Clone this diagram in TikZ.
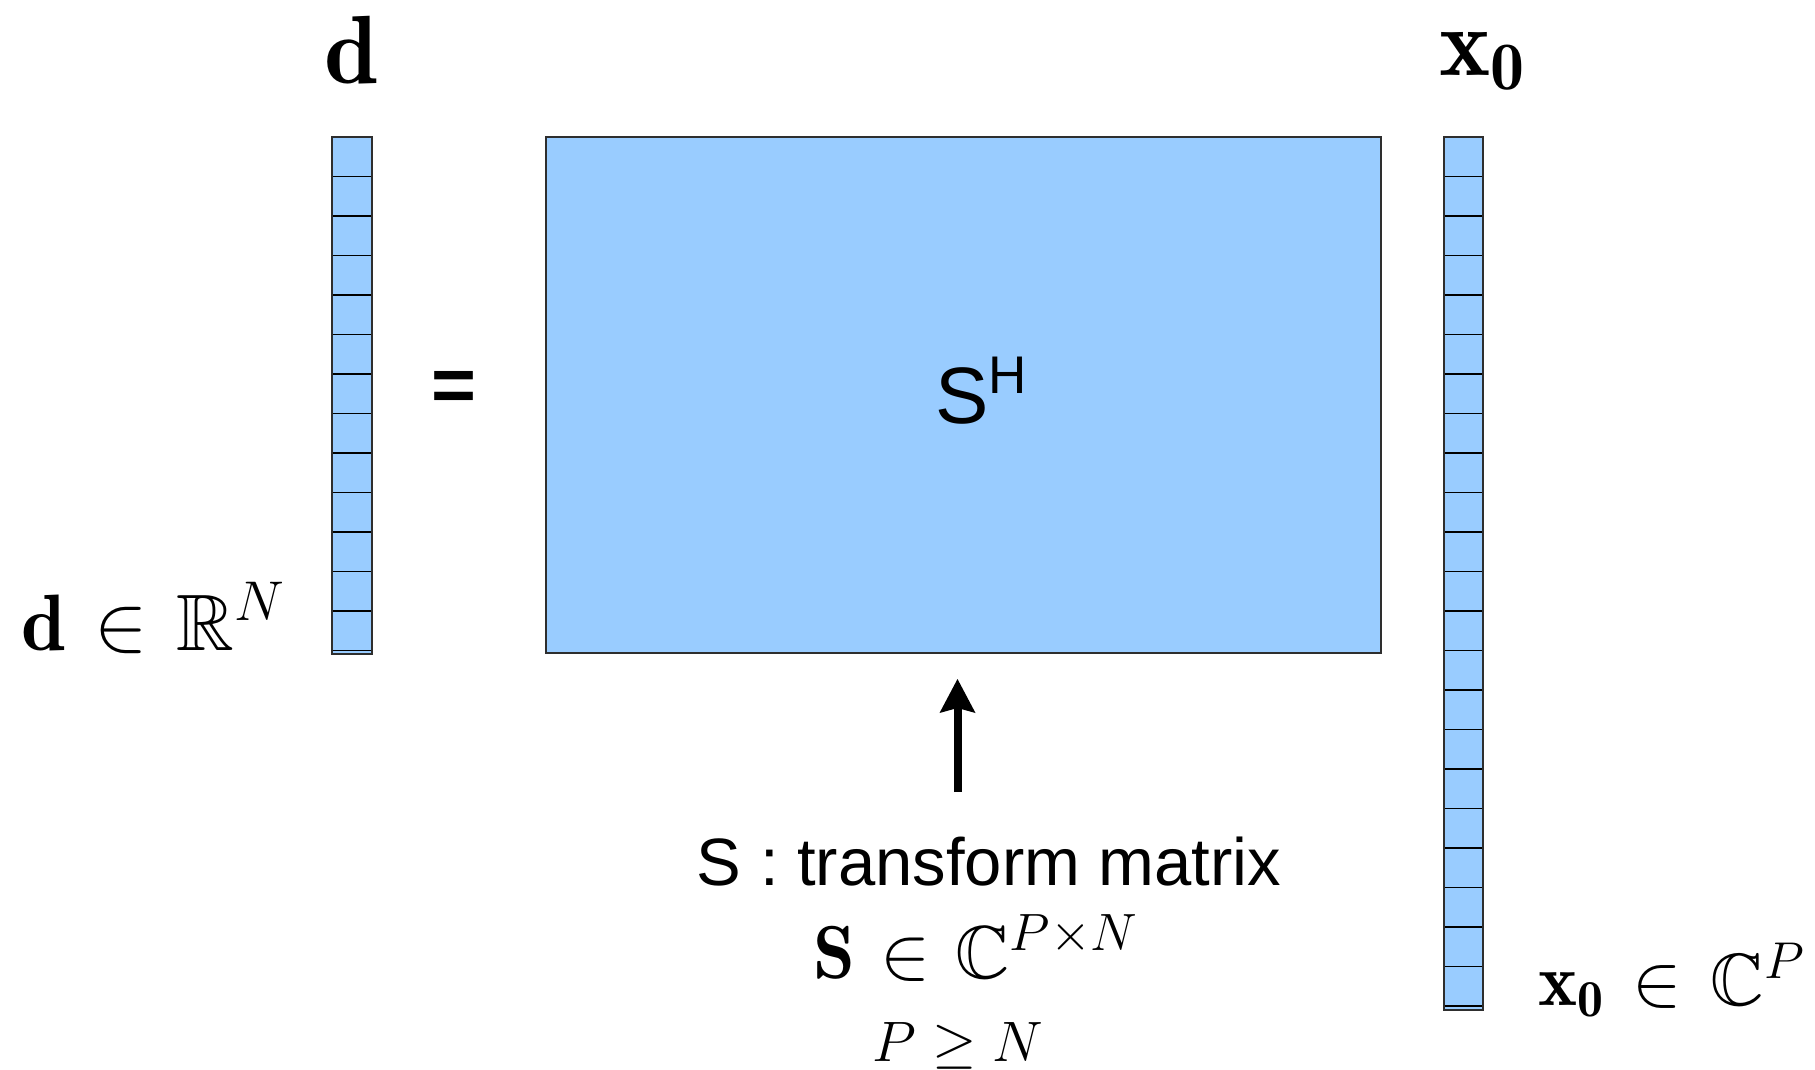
\RequirePackage{fix-cm}
\documentclass[tikz,border=0pt]{standalone}
\usepackage{amssymb}
\usepackage{fontspec}
\newfontfamily\arial{Liberation Sans}
\usetikzlibrary{arrows.meta}
\definecolor{vecblue}{HTML}{99CCFF}
\definecolor{edgegray}{HTML}{2E2E2E}
\tikzset{
  blockedge/.style={draw=edgegray, line width=2pt},
  cellsep/.style={draw=black, line width=1.4pt},
  mathlab/.style={inner sep=0pt, anchor=base},
  bigarrow/.style={line width=8pt, -{Stealth[length=34pt,width=36pt,inset=5pt,line width=0pt]}},
}
\newcommand{\fsz}[1]{\fontsize{#1}{#1}\selectfont}
\begin{document}
\begin{tikzpicture}[x=1pt,y=-1pt]
\useasboundingbox (0,0) rectangle (1815,1069);
% left vector d
\fill[vecblue] (332,137) rectangle (372,654);
\foreach \k in {1,...,13} \draw[cellsep] (332,{137+39.5*\k}) -- (372,{137+39.5*\k});
\draw[blockedge] (332,137) rectangle (372,654);
% matrix S^H
\fill[vecblue] (546,137) rectangle (1381,653);
\draw[blockedge] (546,137) rectangle (1381,653);
% right vector x0
\fill[vecblue] (1444,137) rectangle (1483,1010);
\foreach \k in {1,...,22} \draw[cellsep] (1444,{137+39.5*\k}) -- (1483,{137+39.5*\k});
\draw[blockedge] (1444,137) rectangle (1483,1010);
% labels
\node[mathlab] (dtop) at (351,83) {\fsz{97}$\mathbf{d}$};
\node[mathlab] (xtop) at (1482,75) {\fsz{97}$\mathbf{x_0}$};
\node[mathlab, anchor=base west] (dlab) at (21,650) {\fsz{80}$\mathbf{d}\mskip1.5mu\in\mskip1.5mu\mathbb{R}^N$};
\node[mathlab, anchor=base west] (xlab) at (1538,1005) {\fsz{74}$\mathbf{x_0}\mskip2mu\in\mskip2mu\mathbb{C}^P$};
\node[mathlab] (eq) at (454,411) {\arial\fsz{77}\bfseries =};
\node[mathlab, anchor=base west] (sh) at (935,423) {\arial\fsz{80}S\raisebox{30pt}{\fsz{53}H}};
\node[mathlab] (cap) at (989,885) {\arial\fsz{67}S : transform matrix};
\node[mathlab] (sdef) at (976,978) {\fsz{75}$\mathbf{S}\mskip1mu\in\mskip1mu\mathbb{C}^{P\times N}$};
\node[mathlab] (pn) at (958,1061) {\fsz{57}$P\geq N$};
% arrow
\coordinate (atail) at (957.5,792);
\coordinate (atip) at (957.5,679);
\draw[bigarrow] (atail) -- (atip);
\end{tikzpicture}
\end{document}
